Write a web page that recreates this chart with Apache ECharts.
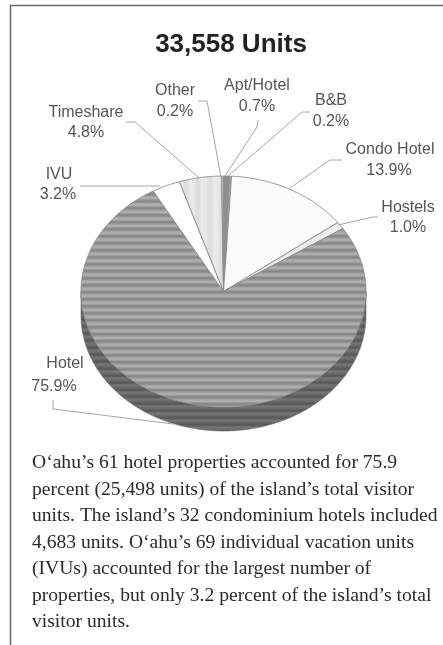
<!DOCTYPE html>
<html><head><meta charset="utf-8">
<style>html,body{margin:0;padding:0;background:#fff}#c{width:443px;height:645px}</style>
<script src="https://cdn.jsdelivr.net/npm/echarts@6/dist/echarts.min.js"></script>
</head><body><div id="c"></div>
<script>
const categories = ['Apt/Hotel','B&B','Condo Hotel','Hostels','Hotel','IVU','Timeshare','Other'];
const shares = [0.7,0.2,13.9,1.0,75.9,3.2,4.8,0.2];
const titleText = '33,558 Units';
const bodyLines = [
 'O‘ahu’s 61 hotel properties accounted for 75.9',
 'percent (25,498 units) of the island’s total visitor',
 'units. The island’s 32 condominium hotels included',
 '4,683 units. O‘ahu’s 69 individual vacation units',
 '(IVUs) accounted for the largest number of',
 'properties, but only 3.2 percent of the island’s total',
 'visitor units.'
];

// label placement (pixels): name x,y then percent x,y
const labelPlace = {
 'Apt/Hotel':[257,86,257,107],
 'B&B':[331,101,331,122],
 'Condo Hotel':[390,150,389,171],
 'Hostels':[408,208,408,228],
 'Hotel':[65,364,54,387],
 'IVU':[59,175,58,195],
 'Timeshare':[86,113,86,133],
 'Other':[175,91,175,112]
};
const leaderPath = {
 'Apt/Hotel':[[258,120],[257,127],[225,176]],
 'B&B':[[310,112],[302,112],[228,176]],
 'Condo Hotel':[[342,160],[330,160],[290,188]],
 'Hostels':[[378,217],[373,217],[338,225]],
 'Hotel':[[53,400],[53,409],[173,424]],
 'IVU':[[80,186],[160,186]],
 'Timeshare':[[126,122],[135,122],[198,177]],
 'Other':[[198,101],[207,101],[221,177]]
};
const fills = {'Apt/Hotel':'#8f8f92','B&B':'#b5b5b8','Condo Hotel':'#fbfbfb','Hostels':'#ececec','IVU':'#ffffff'};

function stripes(w,h,cols,vertical){
  const c=document.createElement('canvas');c.width=w;c.height=h;
  const g=c.getContext('2d');
  cols.forEach((col,i)=>{g.fillStyle=col; vertical?g.fillRect(i,0,1,h):g.fillRect(0,i,w,1);});
  return {image:c,repeat:'repeat'};
}
const hotelFill = stripes(4,7,['#a3a3a6','#adadb0','#adadb0','#9c9c9f','#8c8c8f','#88888b','#939396'],false);
const wallFill = stripes(4,7,['#757577','#6f6f71','#6a6a6c','#606062','#5a5a5c','#5e5e60','#6c6c6e'],false);
const shareFill = stripes(12,4,['#e8e8ea','#e8e8ea','#e6e6e8','#e2e2e4','#dedee0','#dcdcde','#dcdcde','#e0e0e2','#e5e5e7','#e9e9eb','#eaeaec','#e9e9eb'],true);
fills['Hotel']=hotelFill; fills['Timeshare']=shareFill; fills['Other']='#c8c8ca';

const total = shares.reduce((a,b)=>a+b,0);
const cum=[]; shares.reduce((a,b,i)=>{cum[i]=a;return a+b;},0);
const DEPTH = 24;

function renderSlice(params,api){
  const i=params.dataIndex;
  const a0=api.value(1)/total*Math.PI*2, a1=(api.value(1)+api.value(2))/total*Math.PI*2;
  const pt=a=>api.coord([Math.sin(a),Math.cos(a)]);
  const arc=(s,e)=>{const n=Math.max(2,Math.ceil((e-s)/0.01));const o=[];for(let k=0;k<=n;k++)o.push(pt(s+(e-s)*k/n));return o;};
  const children=[];
  const ws=Math.max(a0,Math.PI/2), we=Math.min(a1,Math.PI*1.5);
  if(we>ws){
    const top=arc(ws,we), bot=top.slice().reverse().map(p=>[p[0],p[1]+DEPTH]);
    children.push({type:'polygon',shape:{points:top.concat(bot)},style:{fill:wallFill,stroke:'#6a6a6c',lineWidth:.6}});
  }
  const c=api.coord([0,0]);
  children.push({type:'polygon',shape:{points:[c].concat(arc(a0,a1))},
    style:{fill:fills[categories[i]],stroke:'#8c8c8e',lineWidth:.9}});
  return {type:'group',children};
}
function renderLabel(params,api){
  const name=categories[params.dataIndex], p=labelPlace[name];
  const font=16, col='#555557';
  const t=(s,x,y)=>({type:'text',style:{text:s,x,y,align:'center',verticalAlign:'middle',
     font:`${font}px "Liberation Sans"`,fill:col}});
  return {type:'group',children:[
    {type:'polyline',shape:{points:leaderPath[name]},style:{fill:'none',stroke:'#a6a6a8',lineWidth:1}},
    t(name,p[0],p[1]),
    t(shares[params.dataIndex].toFixed(1)+'%',p[2],p[3])
  ]};
}
const sliceData=categories.map((c,i)=>({name:c,value:[i,cum[i],shares[i]]}));

const chart=echarts.init(document.getElementById('c'),null,{renderer:'canvas'});
chart.setOption({
  animation:false,
  backgroundColor:'#fff',
  title:{text:titleText,top:27,left:226,textAlign:'center',
    textStyle:{fontFamily:'Liberation Sans',fontWeight:'bold',fontSize:26,color:'#222'}},
  grid:{left:81,width:285,top:176,height:231},
  xAxis:{type:'value',min:-1,max:1,show:false},
  yAxis:{type:'value',min:-1,max:1,show:false},
  series:[
   {type:'custom',renderItem:renderSlice,data:sliceData,clip:false,silent:true,encode:{x:0,y:0}},
   {type:'custom',renderItem:renderLabel,data:sliceData,clip:false,silent:true,z:3,encode:{x:0,y:0}}
  ],
  graphic:[
   {type:'polyline',shape:{points:[[10.5,645],[10.5,5.5],[443,5.5]]},style:{fill:'none',stroke:'#666',lineWidth:1.5}},
   ...bodyLines.map((s,i)=>({type:'text',x:32,y:463+i*26.5,style:{text:s,
      font:'19.6px "Liberation Serif"',fill:'#2a2a2a',verticalAlign:'middle',align:'left'}}))
  ]
});
</script></body></html>
